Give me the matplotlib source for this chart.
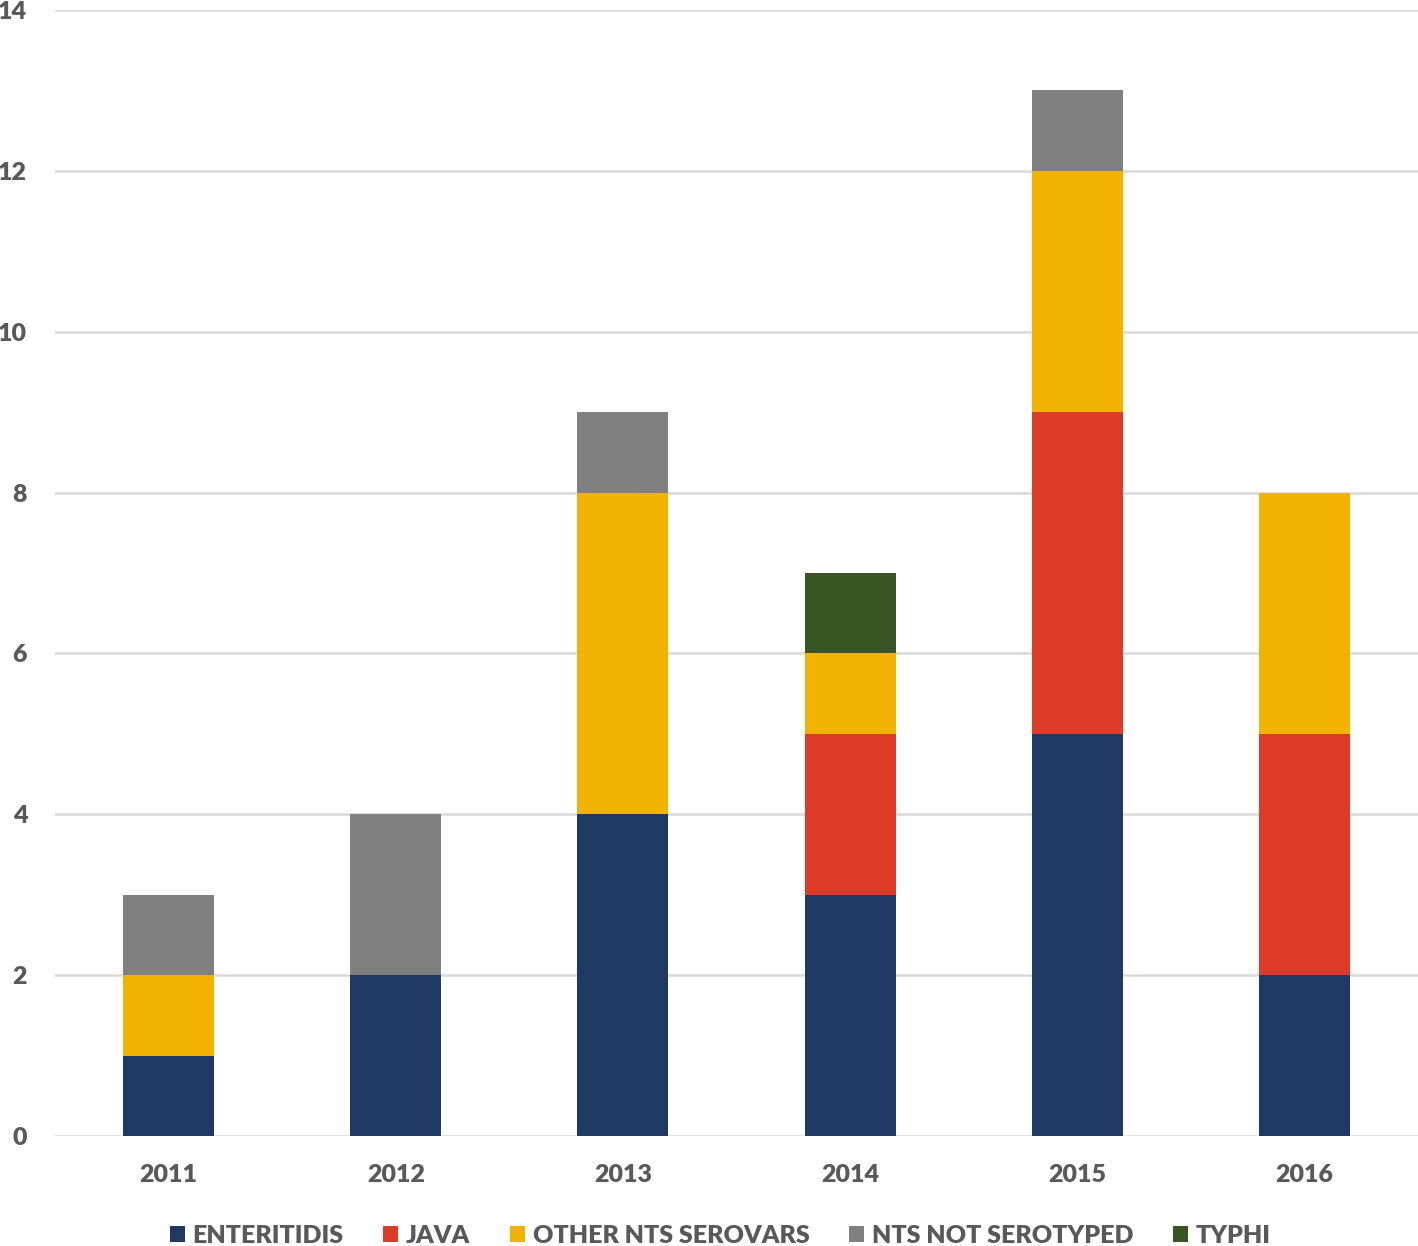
import matplotlib.pyplot as plt
import numpy as np

# Data
years = ["2011", "2012", "2013", "2014", "2015", "2016"]
enteritidis = [1, 2, 4, 3, 5, 2]
java = [0, 0, 0, 2, 4, 3]
other_nts = [1, 0, 4, 1, 3, 3]
nts_not_serotyped = [1, 2, 1, 0, 1, 0]
typhi = [0, 0, 0, 1, 0, 0]

series = [
    ("ENTERITIDIS", enteritidis, "#1F3864"),
    ("JAVA", java, "#DD3B27"),
    ("OTHER NTS SEROVARS", other_nts, "#F0B400"),
    ("NTS NOT SEROTYPED", nts_not_serotyped, "#808080"),
    ("TYPHI", typhi, "#375623"),
]

plt.rcParams['font.family'] = ['Lato', 'DejaVu Sans']

fig = plt.figure(figsize=(14.18, 12.46), dpi=100)
ax = fig.add_axes([0.0388, 0.0883, 0.9612, 0.9037])

x = np.arange(len(years))
bottom = np.zeros(len(years))
for name, vals, color in series:
    ax.bar(x, vals, width=0.4, bottom=bottom, color=color, label=name, zorder=3)
    bottom += np.array(vals)

ax.set_xlim(-0.5, 5.5)
ax.set_ylim(0, 14)
ax.set_yticks(range(0, 15, 2))
ax.set_xticks(x)
ax.set_xticklabels(years)
ax.yaxis.grid(True, color="#D9D9D9", linewidth=1.8, zorder=0)
ax.set_axisbelow(True)
for s in ax.spines.values():
    s.set_visible(False)
ax.tick_params(axis='both', length=0, labelsize=18, labelcolor="#595959")
ax.tick_params(axis='y', pad=20)
ax.tick_params(axis='x', pad=20)
for lbl in ax.get_xticklabels() + ax.get_yticklabels():
    lbl.set_fontweight('heavy')

fig.legend(loc='lower center', bbox_to_anchor=(0.508, -0.019), ncol=5, frameon=False,
           prop={'size': 18, 'weight': 'heavy'}, labelcolor="#595959",
           handlelength=0.6, handleheight=0.6, handletextpad=0.3, columnspacing=1.6)

fig.savefig("out.png", dpi=100)
